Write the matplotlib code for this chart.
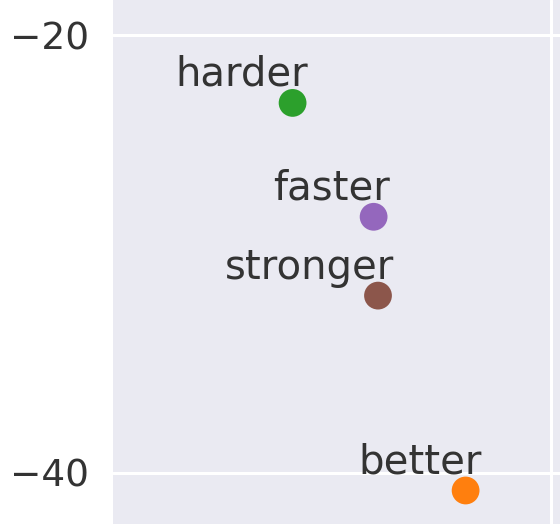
import matplotlib
matplotlib.use('Agg')
import matplotlib.pyplot as plt
import seaborn as sns

# 단어 위치 (잘린 영역만 보임)
words = ['harder', 'faster', 'stronger', 'better']
xs = [-11.8, -8.1, -7.9, -3.9]
ys = [-23.1, -28.3, -31.9, -40.8]
colors = ['#2ca02c', '#9467bd', '#8c564b', '#ff7f0e']

sns.set_style('darkgrid')
plt.rcParams['font.family'] = ['DejaVu Sans']

fig = plt.figure(figsize=(5.6, 5.24), dpi=100)
ax = fig.add_axes([113 / 560, 0, 447 / 560, 1])

for w, x, y, c in zip(words, xs, ys, colors):
    ax.scatter(x, y, s=400, color=c, edgecolors='none', zorder=3)
    ax.annotate(w, xy=(x, y), xytext=(16, 17), textcoords='offset pixels',
                ha='right', va='baseline', fontsize=29, color='.2', zorder=2)

ax.set_xlim(-20, 0.41)
ax.set_ylim(-42.33, -18.40)
ax.set_xticks([0])
ax.set_yticks([-40, -20])
ax.set_xticklabels([])
ax.grid(linewidth=2.2, color='white')
ax.tick_params(axis='y', labelsize=27, pad=17, colors='.2', length=0)
for s in ax.spines.values():
    s.set_visible(False)

fig.savefig('out.png', dpi=100)
